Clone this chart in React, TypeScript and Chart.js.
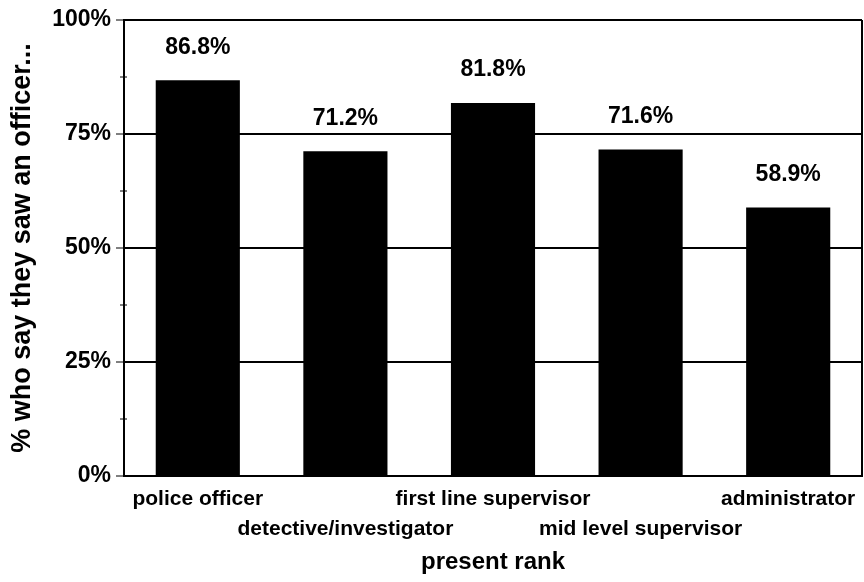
import React, { useEffect, useRef } from "react";
import { Chart, registerables } from "chart.js";

Chart.register(...registerables);

const categories = [
  "police officer",
  "detective/investigator",
  "first line supervisor",
  "mid level supervisor",
  "administrator",
];
const values = [86.8, 71.2, 81.8, 71.6, 58.9];
const yTicks = [0, 25, 50, 75, 100];
const minorTicks = [12.5, 37.5, 62.5, 87.5];
const xTitle = "present rank";
const yTitle = "% who say they saw an officer...";

const FONT = "'Liberation Sans', Arial, sans-serif";

const decorPlugin = {
  id: "decor",
  afterDatasetsDraw(chart: any) {
    const ctx = chart.ctx;
    const area = chart.chartArea;
    const y = chart.scales.y;
    ctx.save();
    // right border
    ctx.strokeStyle = "#000";
    ctx.lineWidth = 2;
    ctx.beginPath();
    ctx.moveTo(area.right, area.top);
    ctx.lineTo(area.right, area.bottom);
    ctx.stroke();
    // minor ticks
    ctx.lineWidth = 1;
    minorTicks.forEach((v) => {
      const py = y.getPixelForValue(v);
      ctx.beginPath();
      ctx.moveTo(area.left - 4, py);
      ctx.lineTo(area.left + 3, py);
      ctx.stroke();
    });
    // value labels
    const meta = chart.getDatasetMeta(0);
    ctx.fillStyle = "#000";
    ctx.font = `bold 23px ${FONT}`;
    ctx.textAlign = "center";
    ctx.textBaseline = "middle";
    meta.data.forEach((bar: any, i: number) => {
      ctx.fillText(values[i].toFixed(1) + "%", bar.x, bar.y - 33);
    });
    ctx.restore();
  },
};

export default function App() {
  const ref = useRef<HTMLCanvasElement>(null);
  useEffect(() => {
    document.body.style.margin = "0";
    const chart = new Chart(ref.current!, {
      type: "bar",
      data: {
        labels: categories,
        datasets: [
          {
            data: values,
            backgroundColor: "#000",
            borderWidth: 0,
            categoryPercentage: 1,
            barPercentage: 0.57,
          },
        ],
      },
      options: {
        animation: false,
        responsive: false,
        layout: { padding: { top: 20, right: 2, left: 0, bottom: 0 } },
        plugins: { legend: { display: false }, tooltip: { enabled: false } },
        scales: {
          x: {
            grid: { display: false },
            border: { display: true, color: "#000", width: 2 },
            ticks: {
              color: "#000",
              font: { family: FONT, size: 21, weight: "bold", lineHeight: 1.45 },
              maxRotation: 0,
              autoSkip: false,
              padding: 0,
              callback: (_v: any, i: number) =>
                i % 2 === 1 ? ["", categories[i]] : categories[i],
            },
            title: {
              display: true,
              text: xTitle,
              color: "#000",
              font: { family: FONT, size: 24, weight: "bold" },
              padding: { top: 5, bottom: 5 },
            },
            afterFit: (s: any) => {
              s.height = 106;
            },
          },
          y: {
            min: 0,
            max: 100,
            afterBuildTicks: (s: any) => {
              s.ticks = yTicks.map((v) => ({ value: v }));
            },
            grid: {
              color: "#000",
              lineWidth: 2,
              drawTicks: true,
              tickLength: 8,
              tickColor: "#000",
              tickWidth: 1,
            },
            border: { display: true, color: "#000", width: 2 },
            ticks: {
              color: "#000",
              font: { family: FONT, size: 23, weight: "bold" },
              padding: 5,
              callback: (v: any) => v + "%",
            },
            title: {
              display: true,
              text: yTitle,
              color: "#000",
              font: { family: FONT, size: 27, weight: "bold" },
              padding: { top: 6, bottom: 6 },
            },
            afterFit: (s: any) => {
              s.width = 124;
            },
          },
        },
      },
      plugins: [decorPlugin],
    });
    return () => chart.destroy();
  }, []);
  return (
    <div style={{ width: 864, height: 582 }}>
      <canvas ref={ref} width={864} height={582} />
    </div>
  );
}
